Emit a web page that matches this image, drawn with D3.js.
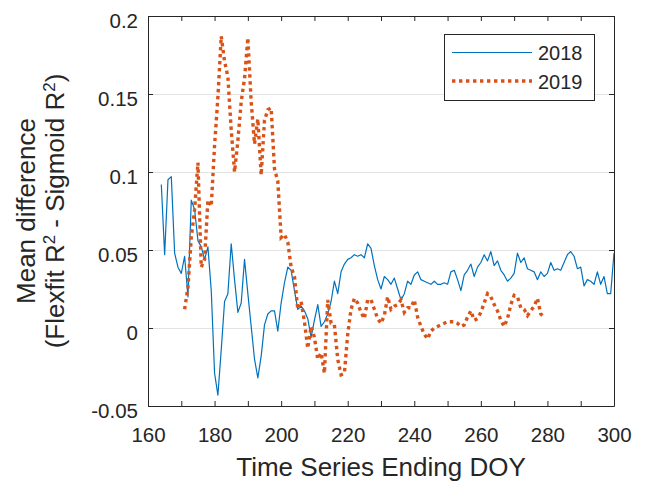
<!DOCTYPE html>
<html><head><meta charset="utf-8">
<script src="https://cdn.jsdelivr.net/npm/d3@7/dist/d3.min.js"></script>
<style>
body{margin:0;background:#fff}
svg{display:block}
text{font-family:"Liberation Sans",Arial,Helvetica,sans-serif;fill:#262626}
</style>
</head><body>
<svg id="chart" width="647" height="481"></svg>
<script>
// ---- data ----
const seriesNames = ["2018", "2019"];
const doyStart2018 = 164;
const values2018 = [
 0.092,0.047,0.095,0.097,0.048,0.039,0.035,0.046,0.020,0.082,
 0.076,0.056,0.052,0.044,0.052,0.024,-0.029,-0.043,-0.014,0.017,
 0.022,0.054,0.031,0.010,0.016,0.044,0.022,0.001,-0.020,-0.032,
 -0.018,0.002,0.009,0.011,0.011,-0.002,0.016,0.029,0.039,0.037,
 0.024,0.012,0.014,0.011,0.006,-0.006,0.005,0.015,0.001,0.004,
 0.009,0.017,0.030,0.022,0.036,0.041,0.044,0.045,0.047,0.046,
 0.047,0.045,0.054,0.051,0.040,0.031,0.025,0.033,0.031,0.028,
 0.032,0.025,0.018,0.022,0.030,0.028,0.034,0.036,0.031,0.030,
 0.029,0.028,0.030,0.028,0.028,0.029,0.028,0.036,0.037,0.031,
 0.024,0.034,0.037,0.041,0.033,0.039,0.042,0.047,0.043,0.049,
 0.040,0.043,0.037,0.034,0.030,0.032,0.035,0.048,0.042,0.045,
 0.038,0.037,0.036,0.031,0.036,0.033,0.035,0.042,0.037,0.038,
 0.037,0.042,0.047,0.049,0.046,0.038,0.039,0.027,0.031,0.030,
 0.028,0.036,0.028,0.033,0.022,0.022,0.048
];
const doyStart2019 = 171;
const values2019 = [
 0.012,0.026,0.058,0.076,0.106,0.039,0.044,0.082,0.078,0.117,
 0.148,0.187,0.171,0.161,0.127,0.100,0.120,0.145,0.160,0.186,
 0.145,0.118,0.134,0.098,0.133,0.140,0.141,0.102,0.094,0.058,
 0.060,0.055,0.039,0.033,0.012,0.017,0.004,-0.013,0.001,-0.006,
 -0.020,-0.016,-0.029,0.018,0.003,0.002,-0.020,-0.030,-0.029,-0.004,
 0.012,0.019,0.016,0.010,0.006,0.018,0.018,0.012,0.006,0.003,
 0.008,0.020,0.012,0.014,0.015,0.018,0.010,0.013,0.013,0.018,
 0.007,0.001,-0.004,-0.007,-0.002,0.000,0.001,0.002,0.003,0.004,
 0.004,0.004,0.003,0.001,0.002,0.007,0.011,0.005,0.006,0.010,
 0.016,0.022,0.020,0.015,0.011,0.005,0.001,0.006,0.015,0.021,
 0.020,0.013,0.012,0.008,0.011,0.014,0.019,0.009,0.007
];
const xTicks = [160,170,180,190,200,210,220,230,240,250,260,270,280,290,300];
const xTickLabels = ["160","","180","","200","","220","","240","","260","","280","","300"];
const yTicks = [-0.05,0,0.05,0.1,0.15,0.2];
const yTickLabels = ["-0.05","0","0.05","0.1","0.15","0.2"];
const xLabel = "Time Series Ending DOY";
const yLabelLine1 = "Mean difference";

// ---- layout ----
const svg = d3.select("#chart");
const L = 148, R = 614, T = 16, B = 406;
const x = d3.scaleLinear().domain([160, 300]).range([L, R]);
const y = d3.scaleLinear().domain([-0.05, 0.2]).range([B, T]);
const axisColor = "#262626";
const colors = ["#0072BD", "#D95319"];

svg.append("rect").attr("width", 647).attr("height", 481).attr("fill", "#fff");

// grid
svg.append("g").selectAll("line").data(yTicks).join("line")
  .attr("x1", L).attr("x2", R)
  .attr("y1", d => Math.round(y(d)) + 0.5).attr("y2", d => Math.round(y(d)) + 0.5)
  .attr("stroke", "#e3e3e3").attr("stroke-width", 1);

// series
const toPts = (start, vals) => vals.map((v, i) => [start + i, v]);
const line = d3.line().x(d => x(d[0])).y(d => y(d[1]));
svg.append("path").datum(toPts(doyStart2018, values2018))
  .attr("d", line).attr("fill", "none").attr("stroke", colors[0])
  .attr("stroke-width", 1.2).attr("stroke-linejoin", "round");
svg.append("path").datum(toPts(doyStart2019, values2019))
  .attr("d", line).attr("fill", "none").attr("stroke", colors[1])
  .attr("stroke-width", 3.4).attr("stroke-dasharray", "3.4 3.6");

// axes
const fmtX = (d, i) => xTickLabels[xTicks.indexOf(d)];
const fmtY = d => yTickLabels[yTicks.indexOf(d)];
const gB = svg.append("g").attr("transform", `translate(0,${B})`)
  .call(d3.axisBottom(x).tickValues(xTicks).tickFormat(fmtX).tickSizeInner(-5).tickSizeOuter(0).tickPadding(21));
const gT = svg.append("g").attr("transform", `translate(0,${T})`)
  .call(d3.axisTop(x).tickValues(xTicks).tickFormat("").tickSizeInner(-5).tickSizeOuter(0));
const gL = svg.append("g").attr("transform", `translate(${L},0)`)
  .call(d3.axisLeft(y).tickValues(yTicks).tickFormat(fmtY).tickSizeInner(-5).tickSizeOuter(0).tickPadding(10));
const gR = svg.append("g").attr("transform", `translate(${R},0)`)
  .call(d3.axisRight(y).tickValues(yTicks).tickFormat("").tickSizeInner(-5).tickSizeOuter(0));
[gB, gT, gL, gR].forEach(g => {
  g.selectAll("path.domain").attr("stroke", axisColor);
  g.selectAll(".tick line").attr("stroke", axisColor);
  g.selectAll(".tick text").attr("fill", axisColor).style("font-size", "20.5px")
    .style("font-family", '"Liberation Sans",Arial,sans-serif');
});
gL.selectAll(".tick text").attr("dy", "0.55em");

// axis labels
svg.append("text").attr("x", (L + R) / 2).attr("y", 476).attr("text-anchor", "middle")
  .style("font-size", "26px").text(xLabel);
svg.append("text").attr("transform", `translate(34.5,${(T + B) / 2}) rotate(-90)`)
  .attr("text-anchor", "middle").style("font-size", "26px").text(yLabelLine1);
const yl2 = svg.append("text").attr("transform", `translate(63.5,${(T + B) / 2}) rotate(-90)`)
  .attr("text-anchor", "middle").style("font-size", "26px");
yl2.append("tspan").text("(Flexfit R");
yl2.append("tspan").attr("dy", -9).style("font-size", "17px").text("2");
yl2.append("tspan").attr("dy", 9).text(" - Sigmoid R");
yl2.append("tspan").attr("dy", -9).style("font-size", "17px").text("2");
yl2.append("tspan").attr("dy", 9).text(")");

// legend
const lg = svg.append("g");
lg.append("rect").attr("x", 444.5).attr("y", 34.5).attr("width", 150).attr("height", 66)
  .attr("fill", "#fff").attr("stroke", axisColor).attr("stroke-width", 1);
const legY = [52.5, 81];
seriesNames.forEach((name, i) => {
  lg.append("line").attr("x1", 452).attr("x2", 532).attr("y1", legY[i]).attr("y2", legY[i])
    .attr("stroke", colors[i]).attr("stroke-width", i === 0 ? 1.2 : 3.4)
    .attr("stroke-dasharray", i === 0 ? null : "3.4 3.6");
  lg.append("text").attr("x", 538).attr("y", legY[i] + 7.5).style("font-size", "20px").text(name);
});
</script>
</body></html>
